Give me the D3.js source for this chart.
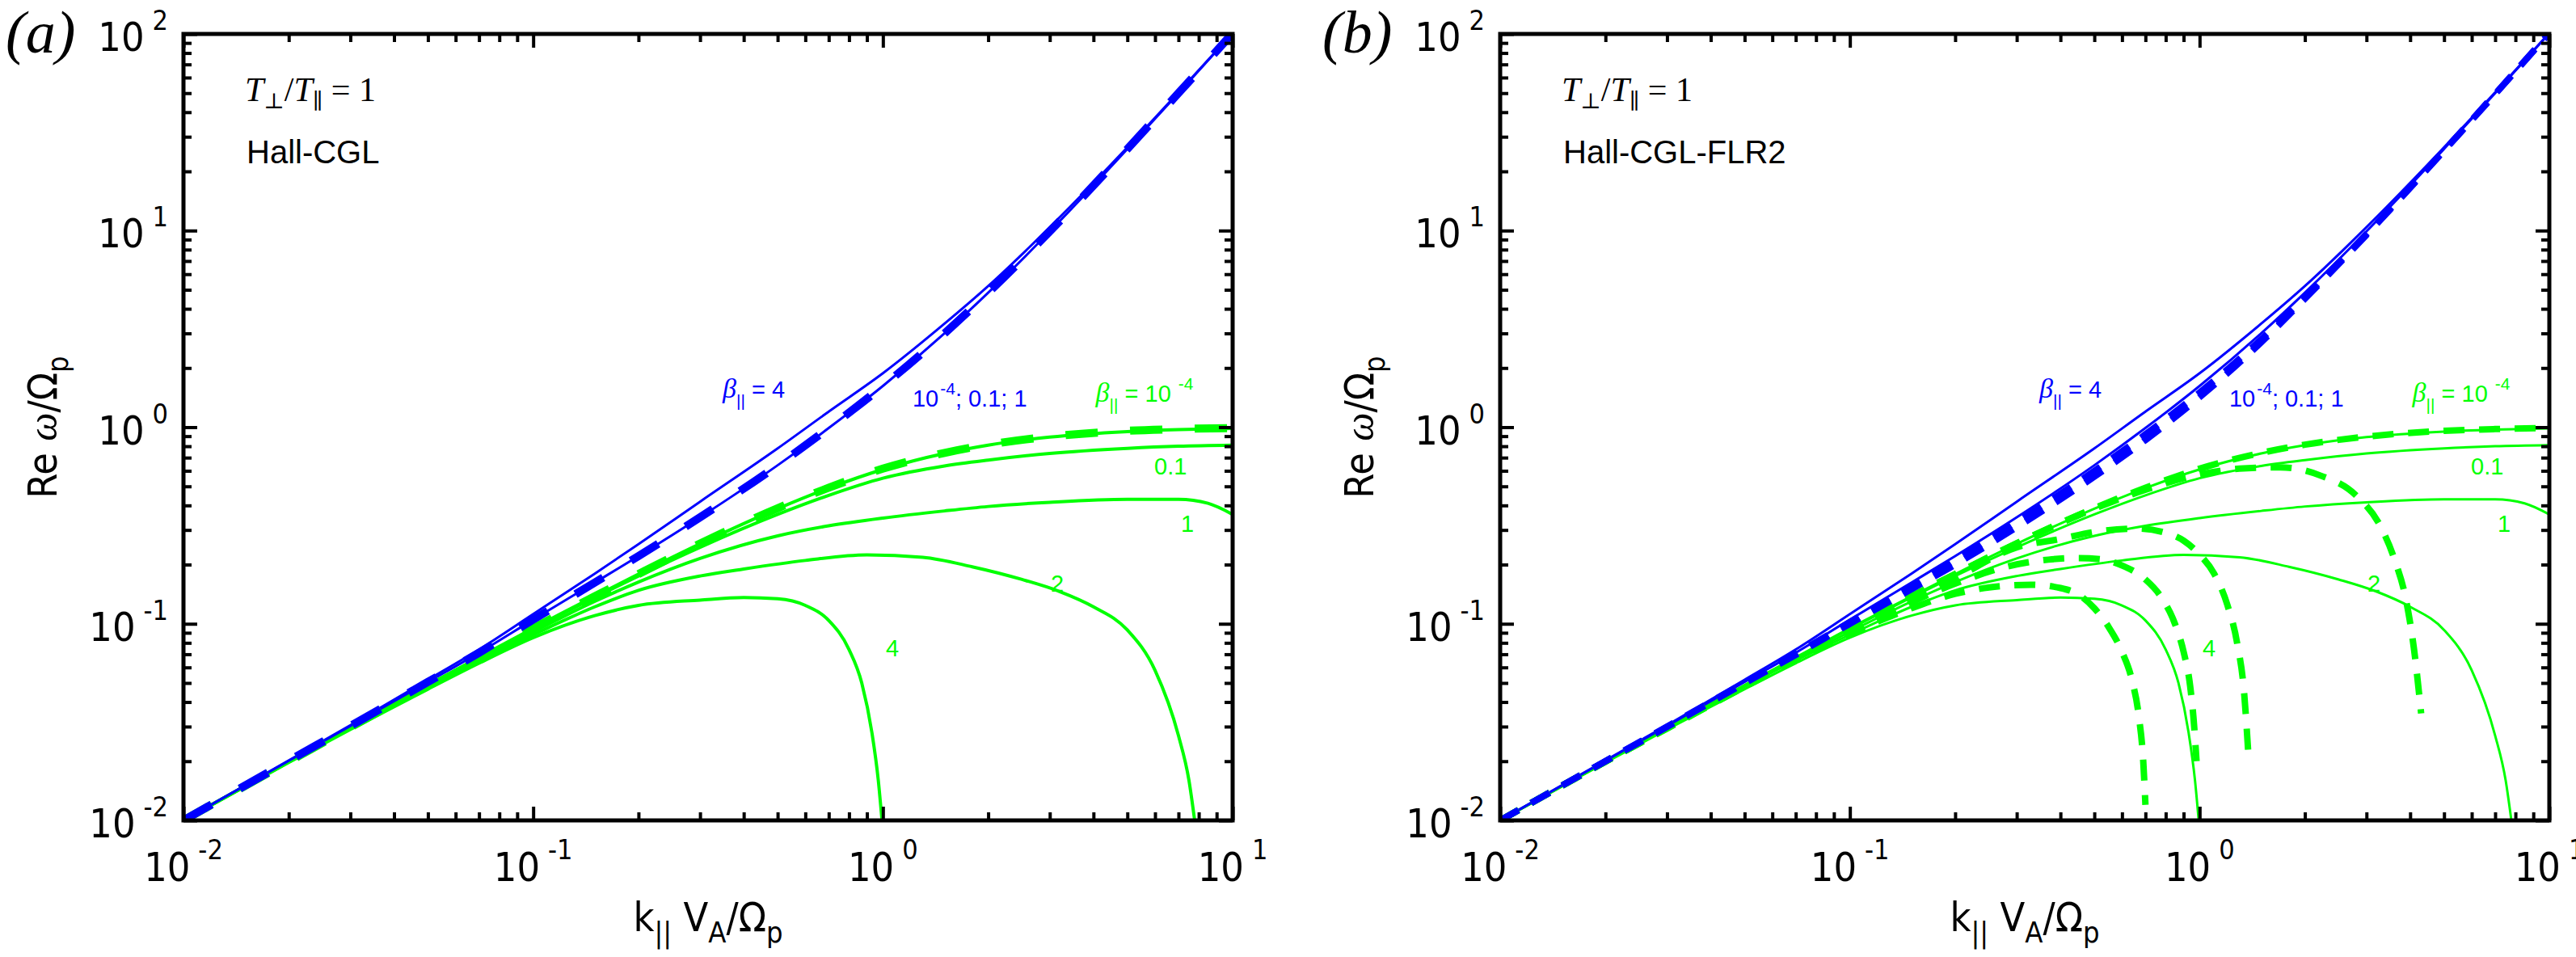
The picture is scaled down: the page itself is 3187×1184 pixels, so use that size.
<!DOCTYPE html>
<html>
<head>
<meta charset="utf-8">
<script src="https://cdn.jsdelivr.net/npm/d3@7"></script>
<style>
  body { margin: 0; background: #fff; }
</style>
</head>
<body>
<div id="chart"></div>
<script>
// ---- data (k = k|| VA/Omega_p, w = Re omega/Omega_p) ----

// kinetic (solid) curves, shared by both panels
var kinK = [0.01, 0.02, 0.03, 0.05, 0.07, 0.1, 0.15, 0.2, 0.3, 0.5, 0.7, 1, 1.5, 2, 3, 5, 7, 10];
var whistlerLow = [0.0100, 0.0201, 0.0302, 0.0506, 0.0712, 0.105, 0.162, 0.221, 0.348, 0.64, 0.99, 1.62, 3.0, 4.83, 9.9, 26, 50, 101];
var whistlerB4 = [0.0100, 0.0202, 0.0305, 0.0519, 0.074, 0.112, 0.18, 0.254, 0.418, 0.78, 1.20, 1.88, 3.36, 5.22, 10.4, 26.5, 50.5, 101];
var cyclotronB1e4 = [0.0100, 0.0199, 0.0297, 0.0488, 0.0675, 0.095, 0.138, 0.179, 0.255, 0.385, 0.49, 0.61, 0.735, 0.81, 0.89, 0.95, 0.972, 0.985];
var cyclotronB01 = [0.0100, 0.0199, 0.0296, 0.0487, 0.0672, 0.094, 0.136, 0.175, 0.245, 0.36, 0.45, 0.55, 0.635, 0.68, 0.735, 0.78, 0.80, 0.81];

var kB1 = [0.01, 0.02, 0.03, 0.05, 0.07, 0.1, 0.15, 0.2, 0.3, 0.5, 0.7, 1, 1.5, 2, 3, 5, 7, 8.5, 10];
var cyclotronB1 = [0.0100, 0.0198, 0.0294, 0.0482, 0.066, 0.091, 0.13, 0.163, 0.215, 0.28, 0.315, 0.345, 0.375, 0.395, 0.415, 0.43, 0.43, 0.41, 0.36];

var kB2 = [0.01, 0.02, 0.03, 0.05, 0.07, 0.1, 0.15, 0.2, 0.3, 0.4, 0.6, 0.9, 1.3, 1.8, 2.5, 3.2, 4, 5, 6, 7, 7.5, 7.8];
var cyclotronB2 = [0.0100, 0.0198, 0.0293, 0.0478, 0.065, 0.088, 0.122, 0.148, 0.175, 0.19, 0.21, 0.224, 0.218, 0.195, 0.168, 0.146, 0.122, 0.093, 0.058, 0.027, 0.016, 0.0098];

var kB4 = [0.01, 0.02, 0.03, 0.05, 0.07, 0.1, 0.15, 0.2, 0.3, 0.4, 0.5, 0.6, 0.7, 0.8, 0.87, 0.93, 0.97, 0.995];
var cyclotronB4 = [0.0100, 0.0197, 0.029, 0.0465, 0.063, 0.085, 0.11, 0.124, 0.132, 0.136, 0.134, 0.124, 0.104, 0.074, 0.05, 0.028, 0.016, 0.0098];

// (a) Hall-CGL fluid (dashed)
var cglWhistler = [0.0100, 0.0201, 0.0302, 0.0506, 0.0712, 0.105, 0.162, 0.221, 0.348, 0.64, 0.99, 1.62, 3.0, 4.83, 9.9, 26, 50, 101];
var cglCyclotron = [0.0100, 0.0199, 0.0297, 0.0488, 0.0675, 0.095, 0.138, 0.179, 0.256, 0.387, 0.492, 0.615, 0.74, 0.815, 0.895, 0.958, 0.978, 0.99];

// (b) Hall-CGL-FLR2 fluid (dashed)
var flrWhistlerB1e4 = [0.0100, 0.0200, 0.0300, 0.0502, 0.0703, 0.102, 0.155, 0.21, 0.33, 0.6, 0.92, 1.5, 2.8, 4.6, 9.6, 25.5, 49.5, 101];
var flrWhistlerB1 = [0.0100, 0.0200, 0.0299, 0.0498, 0.0695, 0.1, 0.15, 0.2, 0.31, 0.56, 0.86, 1.42, 2.7, 4.5, 9.5, 25.5, 49.5, 101];
var flrCyclotronB1e4 = [0.0100, 0.0199, 0.0297, 0.0488, 0.0675, 0.095, 0.138, 0.179, 0.256, 0.387, 0.492, 0.615, 0.74, 0.815, 0.895, 0.958, 0.978, 0.99];

var kD01 = [0.01, 0.02, 0.03, 0.05, 0.1, 0.2, 0.3, 0.5, 0.7, 1, 1.3, 1.7, 2.2, 2.8, 3.3, 3.6, 3.9, 4.1, 4.3];
var flrCyclotronB01 = [0.0100, 0.0199, 0.0296, 0.0488, 0.095, 0.179, 0.257, 0.385, 0.48, 0.575, 0.615, 0.625, 0.57, 0.45, 0.31, 0.215, 0.13, 0.075, 0.035];

var kD1 = [0.01, 0.02, 0.03, 0.05, 0.1, 0.2, 0.3, 0.4, 0.5, 0.66, 0.8, 0.9, 1.0, 1.1, 1.2, 1.28, 1.34, 1.38];
var flrCyclotronB1 = [0.0100, 0.0199, 0.0295, 0.0485, 0.093, 0.17, 0.245, 0.27, 0.293, 0.305, 0.29, 0.265, 0.225, 0.18, 0.125, 0.08, 0.045, 0.021];

var kD2 = [0.01, 0.02, 0.03, 0.05, 0.1, 0.2, 0.28, 0.37, 0.45, 0.52, 0.6, 0.7, 0.78, 0.85, 0.9, 0.94, 0.965, 0.98];
var flrCyclotronB2 = [0.0100, 0.0199, 0.0294, 0.048, 0.09, 0.16, 0.195, 0.212, 0.216, 0.213, 0.198, 0.168, 0.135, 0.1, 0.072, 0.048, 0.03, 0.02];

var kD4 = [0.01, 0.02, 0.03, 0.05, 0.1, 0.15, 0.2, 0.25, 0.33, 0.4, 0.45, 0.5, 0.55, 0.6, 0.64, 0.67, 0.69, 0.70];
var flrCyclotronB4 = [0.0100, 0.0199, 0.0293, 0.0478, 0.089, 0.12, 0.142, 0.153, 0.158, 0.152, 0.141, 0.12, 0.096, 0.072, 0.052, 0.034, 0.02, 0.012];

// axis tick labels (exponents of 10)
var xExponents = [-2, -1, 0, 1];
var yExponents = [-2, -1, 0, 1, 2];

// curve annotations, anchored at (k, w)
var annotations = [
    { kind: "beta", value: "4", k: 0.348, w: 1.41, color: "blue" },
    { kind: "list", value: "; 0.1; 1", k: 1.215, w: 1.27, color: "blue" },
    { kind: "betaPow", value: "-4", k: 4.06, w: 1.35, color: "green" },
    { kind: "plain", value: "0.1", k: 5.97, w: 0.575, color: "green" },
    { kind: "plain", value: "1", k: 7.11, w: 0.294, color: "green" },
    { kind: "plain", value: "2", k: 3.02, w: 0.1455, color: "green" },
    { kind: "plain", value: "4", k: 1.02, w: 0.0682, color: "green" }
];

// ---- layout ----
var svgWidth = 3187;
var svgHeight = 1184;
var width = 1298;
var height = 973;
var marginTop = 42;

var BLUE = "#0000ff";
var GREEN = "#00ff00";
var narrow = '"Liberation Sans Narrow", "DejaVu Sans Condensed", "Liberation Sans", Arial, sans-serif';
var sans = '"Liberation Sans", Arial, sans-serif';
var serif = '"Liberation Serif", "DejaVu Serif", serif';

function pts(ks, ws) {
    return ks.map(function (k, i) { return { k: k, w: ws[i] }; });
}

var kinetic = [
    { data: pts(kinK, cyclotronB1e4), color: GREEN },
    { data: pts(kinK, cyclotronB01), color: GREEN },
    { data: pts(kB1, cyclotronB1), color: GREEN },
    { data: pts(kB2, cyclotronB2), color: GREEN },
    { data: pts(kB4, cyclotronB4), color: GREEN },
    { data: pts(kinK, whistlerLow), color: BLUE },
    { data: pts(kinK, whistlerB4), color: BLUE }
];

var panels = [
    {
        left: 227, tag: "a", model: "Hall-CGL", solidWidth: 4, blueWidth: 3,
        dashed: [
            { data: pts(kinK, cglCyclotron), color: GREEN },
            { data: pts(kinK, cglWhistler), color: BLUE }
        ],
        dash: "40,40", dashWidth: 10
    },
    {
        left: 1856, tag: "b", model: "Hall-CGL-FLR2", solidWidth: 3, blueWidth: 3,
        dashed: [
            { data: pts(kD4, flrCyclotronB4), color: GREEN },
            { data: pts(kD2, flrCyclotronB2), color: GREEN },
            { data: pts(kD1, flrCyclotronB1), color: GREEN },
            { data: pts(kD01, flrCyclotronB01), color: GREEN },
            { data: pts(kinK, flrCyclotronB1e4), color: GREEN },
            { data: pts(kinK, flrWhistlerB1), color: BLUE },
            { data: pts(kinK, flrWhistlerB1e4), color: BLUE }
        ],
        dash: "26,18", dashWidth: 8
    }
];

var svg = d3.select("#chart")
    .append("svg")
    .attr("width", svgWidth)
    .attr("height", svgHeight)
    .style("background", "#fff");

var x = d3.scaleLog().domain([0.01, 10]).range([0, width]);
var y = d3.scaleLog().domain([0.01, 100]).range([height, 0]);

var line = d3.line()
    .x(function (d) { return x(d.k); })
    .y(function (d) { return y(d.w); })
    .curve(d3.curveMonotoneX);

function minorTicks(domain) {
    var out = [];
    for (var e = Math.floor(Math.log10(domain[0])); e < Math.log10(domain[1]); e++) {
        for (var m = 2; m <= 9; m++) out.push(m * Math.pow(10, e));
    }
    return out;
}
function majorTicks(domain) {
    var out = [];
    for (var e = Math.round(Math.log10(domain[0])); e <= Math.round(Math.log10(domain[1])); e++) out.push(Math.pow(10, e));
    return out;
}

panels.forEach(function (p, pi) {
    var g = svg.append("g").attr("transform", "translate(" + p.left + "," + marginTop + ")");

    g.append("clipPath").attr("id", "clip" + pi)
        .append("rect").attr("width", width).attr("height", height);

    var plot = g.append("g").attr("clip-path", "url(#clip" + pi + ")");

    // kinetic solid curves
    kinetic.forEach(function (s) {
        plot.append("path")
            .datum(s.data)
            .attr("d", line)
            .attr("fill", "none")
            .attr("stroke", s.color)
            .attr("stroke-width", s.color === BLUE ? p.blueWidth : p.solidWidth);
    });
    // fluid dashed curves
    p.dashed.forEach(function (s) {
        plot.append("path")
            .datum(s.data)
            .attr("d", line)
            .attr("fill", "none")
            .attr("stroke", s.color)
            .attr("stroke-width", p.dashWidth)
            .attr("stroke-dasharray", p.dash);
    });

    // ticks on all four sides, pointing inward
    var xMaj = majorTicks(x.domain()), xMin = minorTicks(x.domain());
    var yMaj = majorTicks(y.domain()), yMin = minorTicks(y.domain());
    var axes = [
        [d3.axisBottom(x), "translate(0," + height + ")", xMaj, xMin],
        [d3.axisTop(x), "translate(0,0)", xMaj, xMin],
        [d3.axisLeft(y), "translate(0,0)", yMaj, yMin],
        [d3.axisRight(y), "translate(" + width + ",0)", yMaj, yMin]
    ];
    axes.forEach(function (a) {
        [[a[2], -17], [a[3], -10]].forEach(function (set) {
            var ax = g.append("g")
                .attr("transform", a[1])
                .call(a[0].tickValues(set[0]).tickSize(set[1]).tickFormat(""));
            ax.select(".domain").remove();
            ax.selectAll("line").attr("stroke", "#000").attr("stroke-width", 4);
        });
    });

    g.append("rect")
        .attr("width", width).attr("height", height)
        .attr("fill", "none").attr("stroke", "#000").attr("stroke-width", 5);

    // tick labels
    xExponents.forEach(function (e) {
        var t = g.append("text")
            .attr("x", x(Math.pow(10, e)))
            .attr("y", height + 75)
            .attr("text-anchor", "middle")
            .style("font-family", narrow)
            .style("font-size", "50px")
            .text("10");
        t.append("tspan").attr("dx", 10).attr("dy", -27)
            .style("font-size", "34px").text(String(e));
    });
    yExponents.forEach(function (e) {
        var t = g.append("text")
            .attr("x", -19)
            .attr("y", y(Math.pow(10, e)) + 21)
            .attr("text-anchor", "end")
            .style("font-family", narrow)
            .style("font-size", "50px")
            .text("10");
        t.append("tspan").attr("dx", 10).attr("dy", -26)
            .style("font-size", "34px").text(String(e));
    });

    // axis titles
    var yt = g.append("text")
        .attr("transform", "translate(-157," + (height / 2) + ") rotate(-90)")
        .attr("text-anchor", "middle")
        .style("font-family", narrow)
        .style("font-size", "50px");
    yt.append("tspan").text("Re ");
    yt.append("tspan").style("font-family", serif).style("font-style", "italic").text("ω");
    yt.append("tspan").text("/Ω");
    yt.append("tspan").attr("dy", 14).style("font-size", "36px").text("p");

    var xt = g.append("text")
        .attr("x", width / 2)
        .attr("y", 1110)
        .attr("text-anchor", "middle")
        .style("font-family", narrow)
        .style("font-size", "50px");
    xt.append("tspan").text("k");
    xt.append("tspan").attr("dy", 14).style("font-size", "36px").text("||");
    xt.append("tspan").attr("dy", -14).text(" V");
    xt.append("tspan").attr("dy", 14).style("font-size", "36px").text("A");
    xt.append("tspan").attr("dy", -14).text("/Ω");
    xt.append("tspan").attr("dy", 14).style("font-size", "36px").text("p");

    // panel tag
    g.append("text")
        .attr("x", -220).attr("y", 23)
        .style("font-family", serif)
        .style("font-size", "74px")
        .style("font-style", "italic")
        .text("(" + p.tag + ")");

    // in-plot text
    var tt = g.append("text")
        .attr("x", 76).attr("y", 83)
        .style("font-family", serif)
        .style("font-size", "42px");
    tt.append("tspan").style("font-style", "italic").text("T");
    tt.append("tspan").attr("dy", 9).style("font-size", "27px").text("⊥");
    tt.append("tspan").attr("dy", -9).text("/");
    tt.append("tspan").style("font-style", "italic").text("T");
    tt.append("tspan").attr("dy", 9).style("font-size", "27px").text("∥");
    tt.append("tspan").attr("dy", -9).text(" = 1");

    g.append("text")
        .attr("x", 78).attr("y", 160)
        .style("font-family", sans)
        .style("font-size", "40px")
        .text(p.model);

    // curve annotations
    annotations.forEach(function (a) {
        var col = a.color === "blue" ? BLUE : GREEN;
        var t = g.append("text")
            .attr("x", x(a.k)).attr("y", y(a.w))
            .attr("fill", col)
            .style("font-family", sans)
            .style("font-size", "29px");
        if (a.kind === "beta" || a.kind === "betaPow") {
            t.append("tspan").style("font-family", serif).style("font-style", "italic")
                .style("font-size", "34px").text("β");
            t.append("tspan").attr("dy", 11).style("font-size", "21px").text("||");
            if (a.kind === "beta") {
                t.append("tspan").attr("dy", -11).text(" = " + a.value);
            } else {
                t.append("tspan").attr("dy", -11).text(" = 10");
                t.append("tspan").attr("dx", 9).attr("dy", -15).style("font-size", "21px").text(a.value);
            }
        } else if (a.kind === "list") {
            t.append("tspan").text("10");
            t.append("tspan").attr("dx", 2).attr("dy", -15).style("font-size", "21px").text("-4");
            t.append("tspan").attr("dy", 15).text(a.value);
        } else {
            t.text(a.value);
        }
    });
});
</script>
</body>
</html>
